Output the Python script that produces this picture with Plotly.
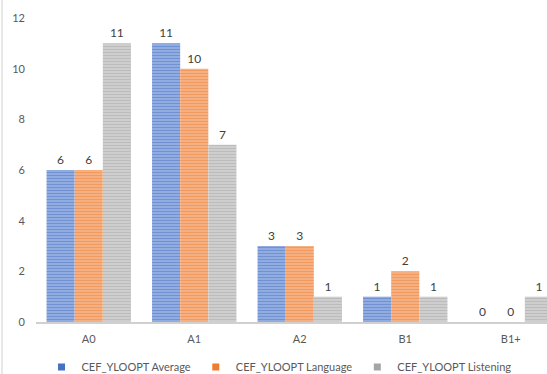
import plotly.graph_objects as go

# CEF level distribution per YLOOPT measure
levels = ["A0", "A1", "A2", "B1", "B1+"]
average = [6, 11, 3, 1, 0]
language = [6, 10, 3, 2, 0]
listening = [11, 7, 1, 1, 1]

series = [
    ("CEF_YLOOPT Average", average, "#4472c4", "#9cb3e3"),
    ("CEF_YLOOPT Language", language, "#ed7d31", "#f7b68a"),
    ("CEF_YLOOPT Listening", listening, "#a5a5a5", "#d3d3d3"),
]

FONT = "Lato"
W, H = 547, 374
L, R, T, B = 36, 0, 18, 52
plot_w = W - L - R
cat_px = 105.5  # width of one category slot in pixels

fig = go.Figure()
for name, vals, fg, bg in series:
    fig.add_trace(go.Bar(
        x=levels, y=vals, name=name,
        text=[str(v) for v in vals], textposition="outside",
        textfont=dict(family=FONT, size=12, color="#404040"),
        cliponaxis=False,
        marker=dict(
            color=bg,
            line=dict(width=0),
            pattern=dict(shape="-", fgcolor=fg, bgcolor=bg, size=3, solidity=0.5, fillmode="overlay"),
        ),
        showlegend=False,
    ))
    # legend swatch
    fig.add_trace(go.Scatter(
        x=[None], y=[None], mode="markers", name=name,
        marker=dict(symbol="square", size=7, color=fg),
        showlegend=True,
    ))

fig.update_layout(
    width=W, height=H,
    margin=dict(l=L, r=R, t=T, b=B),
    paper_bgcolor="white", plot_bgcolor="white",
    barmode="group", bargap=0.2, bargroupgap=0,
    font=dict(family=FONT, size=11, color="#595959"),
    xaxis=dict(
        range=[-0.5, -0.5 + plot_w / cat_px],
        showline=True, linecolor="#d0d0d0", linewidth=1.5,
        showgrid=False, zeroline=False, ticks="",
        ticklabelstandoff=6,
        tickfont=dict(family=FONT, size=11, color="#595959"),
    ),
    yaxis=dict(
        range=[0, 12], dtick=2, showgrid=False, zeroline=False,
        showline=False, ticks="", ticklabelstandoff=10,
        tickfont=dict(family=FONT, size=11, color="#595959"),
    ),
    legend=dict(
        orientation="h",
        xref="container", x=279 / W, xanchor="center",
        yref="container", y=(H - 367) / H, yanchor="middle",
        font=dict(family=FONT, size=11, color="#595959"),
        itemwidth=30, tracegroupgap=0,
    ),
    shapes=[dict(
        type="line", xref="paper", yref="paper",
        x0=(2 - L) / plot_w, x1=(2 - L) / plot_w,
        y0=-B / (H - T - B), y1=1 + T / (H - T - B),
        line=dict(color="#d0d0d0", width=1),
    )],
)

fig.write_html("out.html")
